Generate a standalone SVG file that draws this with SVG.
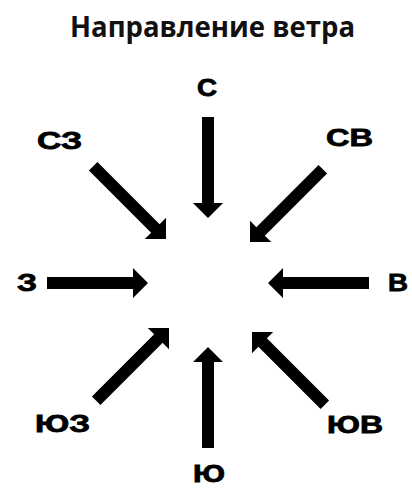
<svg xmlns="http://www.w3.org/2000/svg" xmlns:xlink="http://www.w3.org/1999/xlink" width="412" height="490" viewBox="0 0 412 490">
<style>
.title{font-family:"Open Sans","Liberation Sans",sans-serif;font-weight:700;font-size:28px;fill:#111}
.lbl{font-family:"Liberation Sans",Arial,sans-serif;font-weight:700;font-size:24px;fill:#000;stroke:#000;stroke-width:0.8px}
.arr{fill:#000}
</style>
<defs>
<path id="a" d="M0,0 L-15,-15 L-15,-6 L-101,-6 L-101,6 L-15,6 L-15,15 Z"/>
<path id="d" d="M0,0 L-15,-15 L-15,-6 L-103,-6 L-103,6 L-15,6 L-15,15 Z"/>
</defs>
<rect width="412" height="490" fill="#fff"/>
<text class="title" x="70" y="37" textLength="285" lengthAdjust="spacingAndGlyphs">Направление ветра</text>
<g id="connectors" class="arr">
<use xlink:href="#a" transform="translate(208,218) rotate(90)"/>
<use xlink:href="#a" transform="translate(208,347) rotate(-90)"/>
<use xlink:href="#a" transform="translate(148,283)"/>
<use xlink:href="#a" transform="translate(268,283) rotate(180)"/>
<use xlink:href="#d" transform="translate(166,239) rotate(45)"/>
<use xlink:href="#d" transform="translate(250,242) rotate(135)"/>
<use xlink:href="#d" transform="translate(169,328) rotate(-45)"/>
<use xlink:href="#d" transform="translate(252,332) rotate(-135)"/>
</g>
<g id="n-N"><text class="lbl" x="197" y="96" textLength="20" lengthAdjust="spacingAndGlyphs">С</text></g>
<g id="n-NW"><text class="lbl" x="37" y="149" textLength="45" lengthAdjust="spacingAndGlyphs">СЗ</text></g>
<g id="n-NE"><text class="lbl" x="326" y="146" textLength="47" lengthAdjust="spacingAndGlyphs">СВ</text></g>
<g id="n-W"><text class="lbl" x="17" y="291" textLength="20" lengthAdjust="spacingAndGlyphs">З</text></g>
<g id="n-E"><text class="lbl" x="388" y="291" textLength="20" lengthAdjust="spacingAndGlyphs">В</text></g>
<g id="n-SW"><text class="lbl" x="35" y="432" textLength="55" lengthAdjust="spacingAndGlyphs">ЮЗ</text></g>
<g id="n-SE"><text class="lbl" x="327" y="433" textLength="56" lengthAdjust="spacingAndGlyphs">ЮВ</text></g>
<g id="n-S"><text class="lbl" x="193" y="482" textLength="32" lengthAdjust="spacingAndGlyphs">Ю</text></g>
</svg>
